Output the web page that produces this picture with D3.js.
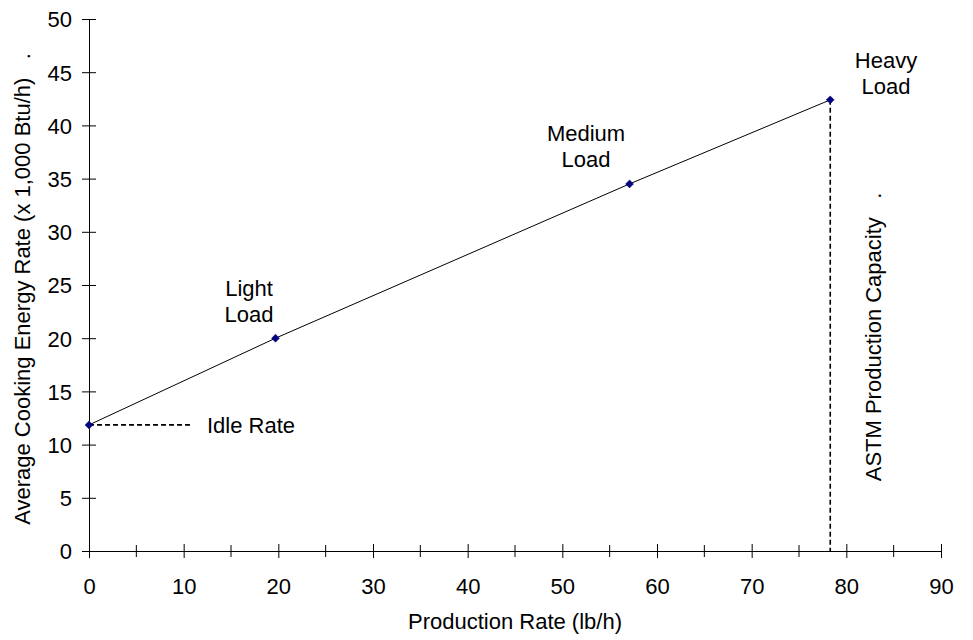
<!DOCTYPE html>
<html><head><meta charset="utf-8">
<script src="https://cdn.jsdelivr.net/npm/d3@7"></script>
<style>
body{margin:0;background:#fff;}
text{font-family:"Liberation Sans",Arial,sans-serif;fill:#000;}
</style></head>
<body><svg id="c" width="973" height="640"></svg>
<script>
const productionRate = [0, 19.7, 57.1, 78.3];
const energyRate = [11.85, 20.0, 34.5, 42.4];
const pointLabels = [["Idle Rate"], ["Light", "Load"], ["Medium", "Load"], ["Heavy", "Load"]];
const xTicks = [0,10,20,30,40,50,60,70,80,90];
const xMinorTicks = [5,15,25,35,45,55,65,75,85];
const yTicks = [0,5,10,15,20,25,30,35,40,45,50];
const idleLineEnd = 10.7;
const capacityX = 78.3;

const svg = d3.select("#c");
const x = d3.scaleLinear().domain([0,90]).range([89,941]);
const y = d3.scaleLinear().domain([0,50]).range([551,19]);
const fs = 22;

// axes
const yAx = svg.append("g").attr("transform",`translate(${x(0)},0)`)
  .call(d3.axisLeft(y).tickValues(yTicks).tickSize(7).tickSizeOuter(0).tickPadding(10));
yAx.select(".domain").attr("stroke","#000");
yAx.selectAll(".tick line").attr("x2",7).attr("x1",-7).attr("stroke","#000");
yAx.selectAll("text").attr("font-size",fs).attr("font-family","Liberation Sans").attr("fill","#000").attr("dy","0.36em");

const xAx = svg.append("g").attr("transform",`translate(0,${y(0)})`)
  .call(d3.axisBottom(x).tickValues(xTicks).tickSize(7).tickSizeOuter(0).tickPadding(20));
xAx.select(".domain").attr("stroke","#000");
xAx.selectAll(".tick line").attr("y1",-7).attr("y2",7).attr("stroke","#000");
xAx.selectAll("text").attr("font-size",fs).attr("font-family","Liberation Sans").attr("fill","#000");
svg.append("g").selectAll("line").data(xMinorTicks).join("line")
  .attr("x1",d=>x(d)).attr("x2",d=>x(d)).attr("y1",y(0)-6).attr("y2",y(0)+6).attr("stroke","#000");

// axis titles
svg.append("text").attr("x",515).attr("y",629).attr("text-anchor","middle")
  .attr("font-size",fs).text("Production Rate (lb/h)");
svg.append("text").attr("transform",`translate(30,${289}) rotate(-90)`).attr("text-anchor","middle")
  .attr("font-size",fs).style("white-space","pre")
  .text("Average Cooking Energy Rate (x 1,000 Btu/h)   .");

// reference dashed lines
svg.append("line").attr("x1",x(0)).attr("x2",x(idleLineEnd)).attr("y1",y(energyRate[0])).attr("y2",y(energyRate[0]))
  .attr("stroke","#000").attr("stroke-width",1.6).attr("stroke-dasharray","5,3");
svg.append("line").attr("x1",x(capacityX)).attr("x2",x(capacityX)).attr("y1",y(energyRate[3])).attr("y2",y(0))
  .attr("stroke","#000").attr("stroke-width",1.6).attr("stroke-dasharray","5,3");

// line
const pts = productionRate.map((d,i)=>[d,energyRate[i]]);
svg.append("path").datum(pts).attr("fill","none").attr("stroke","#000").attr("stroke-width",1)
  .attr("d",d3.line().x(d=>x(d[0])).y(d=>y(d[1])));
svg.append("g").selectAll("path").data(pts).join("path")
  .attr("transform",d=>`translate(${x(d[0])},${y(d[1])})`)
  .attr("d",d3.symbol(d3.symbolDiamond2,40)).attr("fill","#000080").attr("stroke","#000080").attr("stroke-width",0.5);

// point labels
const labelPos = [[207,425,"start"],[249,288,"middle"],[586,133,"middle"],[886,60,"middle"]];
pointLabels.forEach((lines,i)=>{
  const t = svg.append("text").attr("x",labelPos[i][0]).attr("y",labelPos[i][1]).attr("text-anchor",labelPos[i][2]).attr("font-size",fs);
  lines.forEach((l,j)=>t.append("tspan").attr("x",labelPos[i][0]).attr("dy",j===0?"0.36em":"1.2em").text(l));
});
svg.append("text").attr("transform",`translate(881,${337}) rotate(-90)`).attr("text-anchor","middle")
  .attr("font-size",fs).style("white-space","pre").text("ASTM Production Capacity   .");
</script></body></html>
